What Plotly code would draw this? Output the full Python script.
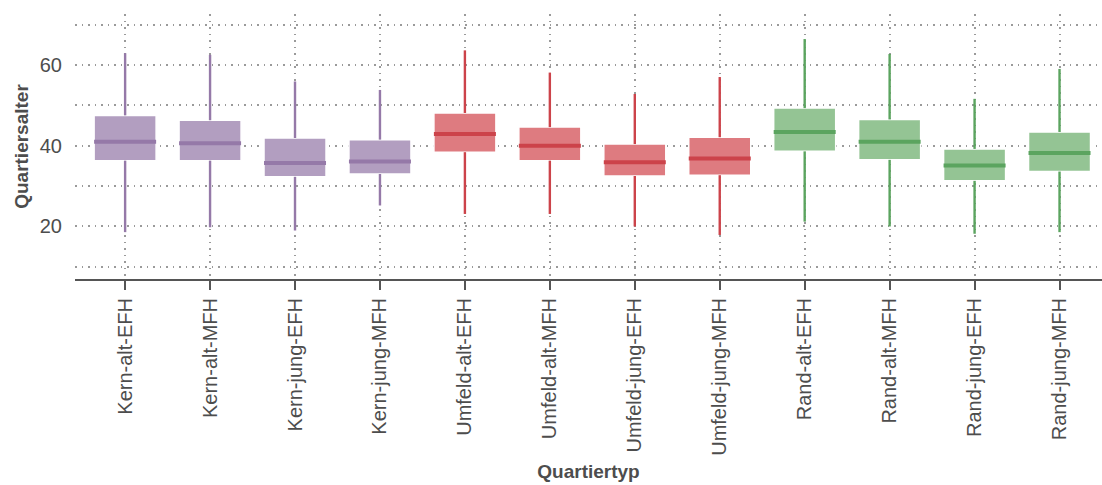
import plotly.graph_objects as go

# Quartiertypen (x-axis categories)
categories = [
    "Kern-alt-EFH", "Kern-alt-MFH", "Kern-jung-EFH", "Kern-jung-MFH",
    "Umfeld-alt-EFH", "Umfeld-alt-MFH", "Umfeld-jung-EFH", "Umfeld-jung-MFH",
    "Rand-alt-EFH", "Rand-alt-MFH", "Rand-jung-EFH", "Rand-jung-MFH",
]

# Box statistics of Quartiersalter per Quartiertyp
lower = [18.6, 19.8, 19.0, 25.2, 23.1, 23.1, 20.0, 17.9, 21.2, 20.0, 18.2, 18.6]
q1 = [36.3, 36.3, 32.3, 33.0, 38.4, 36.3, 32.5, 32.7, 38.6, 36.5, 31.3, 33.6]
median = [41.0, 40.6, 35.7, 36.1, 42.9, 40.0, 35.9, 36.8, 43.4, 41.0, 35.1, 38.2]
q3 = [47.5, 46.3, 41.9, 41.5, 48.1, 44.6, 40.4, 42.1, 49.3, 46.5, 39.2, 43.4]
upper = [62.9, 62.5, 55.9, 53.8, 63.6, 58.1, 52.8, 57.0, 66.4, 62.7, 51.6, 59.0]

# Lage groups: each covers four consecutive categories
groups = ["Kern", "Umfeld", "Rand"]
group_fill = ["#b29ec0", "#de7b80", "#94c494"]
group_line = ["#9579a8", "#cc434a", "#5ba45f"]

TEXT = "#4d4d4d"
FONT = "Liberation Sans, Arial, sans-serif"
BOX_W = 0.73

fig = go.Figure()

for g, name in enumerate(groups):
    idx = [i for i, c in enumerate(categories) if c.startswith(name)]

    # whiskers
    wx, wy = [], []
    for i in idx:
        wx += [i, i, None, i, i, None]
        wy += [lower[i], q1[i], None, q3[i], upper[i], None]
    fig.add_trace(go.Scatter(
        x=wx, y=wy, mode="lines", showlegend=False, hoverinfo="skip",
        line=dict(color=group_line[g], width=2.4),
    ))

    # boxes (interquartile range)
    fig.add_trace(go.Bar(
        x=idx, base=[q1[i] for i in idx], y=[q3[i] - q1[i] for i in idx],
        width=BOX_W, showlegend=False,
        marker=dict(color=group_fill[g], line=dict(color="white", width=1.5)),
    ))

    # medians
    mx, my = [], []
    for i in idx:
        mx += [i - BOX_W / 2, i + BOX_W / 2, None]
        my += [median[i], median[i], None]
    fig.add_trace(go.Scatter(
        x=mx, y=my, mode="lines", showlegend=False, hoverinfo="skip",
        line=dict(color=group_line[g], width=4),
    ))

grid = dict(showgrid=True, gridcolor="#9a9a9a", gridwidth=1.5, griddash="1.5px,5px")

fig.update_layout(
    width=1102, height=485,
    margin=dict(l=75, r=0, t=14, b=206),
    plot_bgcolor="white", paper_bgcolor="white",
    barmode="overlay",
    font=dict(family=FONT, color=TEXT, size=20),
    xaxis=dict(
        range=[-0.59, 11.5],
        tickmode="array",
        tickvals=list(range(len(categories))),
        ticktext=categories,
        tickangle=-90,
        ticks="outside", ticklen=9, tickwidth=2, tickcolor="#555555",
        showline=True, linecolor="#555555", linewidth=2,
        zeroline=False,
        tickfont=dict(size=20, color=TEXT),
        title=dict(text="<b>Quartiertyp</b>", font=dict(size=19, color=TEXT), standoff=10),
        **grid,
    ),
    yaxis=dict(
        range=[7, 72.6],
        tickmode="array",
        tickvals=[10, 20, 30, 40, 50, 60, 70],
        ticktext=["", "20", "", "40", "", "60", ""],
        ticks="", zeroline=False, showline=False,
        ticklabelstandoff=12,
        tickfont=dict(size=20, color=TEXT),
        title=dict(text="<b>Quartiersalter</b>", font=dict(size=19, color=TEXT), standoff=6),
        **grid,
    ),
)

fig.write_html("out.html")
